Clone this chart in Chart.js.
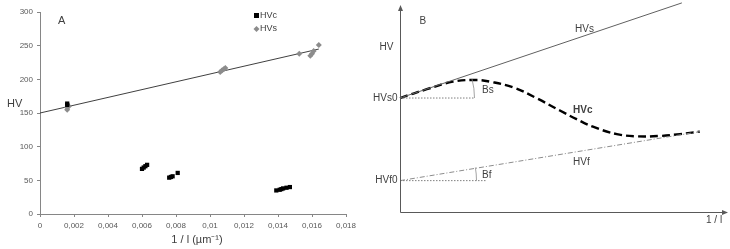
<!DOCTYPE html>
<html><head><meta charset="utf-8">
<script src="https://cdn.jsdelivr.net/npm/chart.js@4"></script>
<style>
html,body{margin:0;padding:0;background:#fff;width:730px;height:249px;overflow:hidden}
#wa{position:absolute;left:0;top:0;width:370px;height:249px}
#wb{position:absolute;left:360px;top:0;width:370px;height:249px}
</style></head><body>
<div id="wa"><canvas id="ca"></canvas></div>
<div id="wb"><canvas id="cb"></canvas></div>
<script>
// ---------- Panel A data ----------
const hvcX = [0.0016,0.0016,0.0060,0.0061,0.0062,0.0063,0.0076,0.0077,0.0078,0.0081,0.0139,0.0141,0.0142,0.0143,0.0145,0.0147];
const hvcY = [162,164,67,69,71,73,54,55,56,61,35,36,37,38,39,40];
const hvsX = [0.0016,0.0016,0.0017,0.0106,0.0107,0.0108,0.0109,0.01525,0.0159,0.0160,0.0161,0.0164];
const hvsY = [155,158,160,211,213,215,217,238,235,238,242,251];
const trendX = [0,0.0164];
const trendY = [150,245];
const xTickMax = 0.018, xTickStep = 0.002;
const yTickMax = 300, yTickStep = 50;

// ---------- Panel B (schematic) data ----------
const bHVsX = [0,86.2];
const bHVsY = [55.6,102];
const bHVcX = [0,8.2,16.2,23.5,27.5,34.6,41.8,48.9,54,59,66.3,72.4,79.5,85.6,91.7];
const bHVcY = [55.6,59.9,63.6,64.4,63.6,60.8,55.5,49.5,45.3,41.6,38.0,36.9,37.1,38,39.2];
const bHVfX = [0,91.7];
const bHVfY = [15.3,39.2];
const bS0X = [0,22.9], bS0Y = [55.6,55.6];
const bF0X = [0,26.5], bF0Y = [15.3,15.3];

const FONT = "'Liberation Sans', Arial, sans-serif";
const zip = (xs, ys) => xs.map((x, i) => ({x, y: ys[i]}));

// ---------- Chart A ----------
const plugA = {
  id: 'plugA',
  afterDraw(c) {
    const ctx = c.ctx;
    ctx.save();
    ctx.fillStyle = '#404040';
    ctx.font = '11px ' + FONT;
    ctx.textBaseline = 'middle';
    ctx.textAlign = 'left';
    ctx.fillText('HV', 7, 104);
    ctx.fillText('A', 58, 21);
    ctx.textAlign = 'center';
    ctx.fillText('1 / l (\u00b5m\u207b\u00b9)', 197, 240);
    // legend
    ctx.fillStyle = '#000';
    ctx.fillRect(254, 13, 5, 5);
    ctx.fillStyle = '#8c8c8c';
    ctx.beginPath();
    ctx.moveTo(256.5, 26); ctx.lineTo(259.5, 29); ctx.lineTo(256.5, 32); ctx.lineTo(253.5, 29); ctx.closePath(); ctx.fill();
    ctx.fillStyle = '#404040';
    ctx.font = '9px ' + FONT;
    ctx.textAlign = 'left';
    ctx.fillText('HVc', 260, 15.5);
    ctx.fillText('HVs', 260, 29);
    ctx.restore();
  }
};

new Chart(document.getElementById('ca'), {
  type: 'scatter',
  data: {
    datasets: [
      {label: 'trend', data: zip(trendX, trendY), showLine: true, borderColor: '#404040', borderWidth: 1, pointRadius: 0, order: 3},
      {label: 'HVs', data: zip(hvsX, hvsY), pointStyle: 'rectRot', pointRadius: 3, backgroundColor: '#8c8c8c', borderColor: '#8c8c8c', borderWidth: 0, order: 2},
      {label: 'HVc', data: zip(hvcX, hvcY), pointStyle: 'rect', pointRadius: 3, backgroundColor: '#000', borderColor: '#000', borderWidth: 0, order: 1}
    ]
  },
  options: {
    responsive: true, maintainAspectRatio: false, animation: false,
    layout: {padding: {left: 0, right: 24, top: 12, bottom: 0}},
    plugins: {legend: {display: false}, tooltip: {enabled: false}},
    scales: {
      x: {
        type: 'linear', min: 0, max: xTickMax,
        afterFit(s) { s.height = 35; },
        border: {display: true, color: '#868686'},
        grid: {display: true, drawOnChartArea: false, drawTicks: true, tickLength: 3, color: '#868686'},
        ticks: {stepSize: xTickStep, color: '#595959', font: {size: 8, family: FONT}, padding: 4, maxRotation: 0,
          callback: v => String(parseFloat(Number(v).toFixed(3))).replace('.', ',')}
      },
      y: {
        type: 'linear', min: 0, max: yTickMax,
        afterFit(s) { s.width = 40; },
        border: {display: true, color: '#868686'},
        grid: {display: true, drawOnChartArea: false, drawTicks: true, tickLength: 3, color: '#868686'},
        ticks: {stepSize: yTickStep, color: '#595959', font: {size: 8, family: FONT}, padding: 4}
      }
    }
  },
  plugins: [plugA]
});

// ---------- Chart B ----------
const OFF = 360; // canvas B left offset on the page
const plugB = {
  id: 'plugB',
  afterDraw(c) {
    const ctx = c.ctx, xs = c.scales.x, ys = c.scales.y;
    const x0 = Math.round(xs.getPixelForValue(0)) + 0.5, y0 = Math.round(ys.getPixelForValue(0)) + 0.5;
    const xEnd = xs.getPixelForValue(100), yTop = ys.getPixelForValue(100);
    ctx.save();
    // axes with arrowheads
    ctx.strokeStyle = '#595959'; ctx.fillStyle = '#595959'; ctx.lineWidth = 1;
    ctx.beginPath();
    ctx.moveTo(x0, y0); ctx.lineTo(x0, yTop + 2);
    ctx.moveTo(x0, y0); ctx.lineTo(xEnd - 2, y0);
    ctx.stroke();
    ctx.beginPath();
    ctx.moveTo(x0, yTop - 2); ctx.lineTo(x0 - 2.5, yTop + 4); ctx.lineTo(x0 + 2.5, yTop + 4); ctx.closePath(); ctx.fill();
    ctx.beginPath();
    ctx.moveTo(xEnd + 1, y0); ctx.lineTo(xEnd - 5, y0 - 2.5); ctx.lineTo(xEnd - 5, y0 + 2.5); ctx.closePath(); ctx.fill();
    // angle arcs
    ctx.strokeStyle = '#8c8c8c'; ctx.lineWidth = 0.8;
    const sy = ys.getPixelForValue(bS0Y[0]);
    ctx.beginPath(); ctx.arc(x0, sy, 74, -15 * Math.PI / 180, 0); ctx.stroke();
    const fy = ys.getPixelForValue(bF0Y[0]);
    ctx.beginPath(); ctx.arc(x0, fy, 76, -10 * Math.PI / 180, 0); ctx.stroke();
    // labels (page x positions converted to canvas-B coordinates)
    const px = v => v - OFF;
    ctx.fillStyle = '#404040';
    ctx.font = '10px ' + FONT;
    ctx.textBaseline = 'middle';
    ctx.textAlign = 'right';
    ctx.fillText('HV', x0 - 7, 47);
    ctx.fillText('HVs0', x0 - 3, sy);
    ctx.fillText('HVf0', x0 - 3, fy);
    ctx.textAlign = 'left';
    ctx.fillText('B', x0 + 19, 21);
    ctx.fillText('HVs', px(575), 29);
    ctx.fillText('HVf', px(573), 162);
    ctx.fillText('Bs', px(482), 90);
    ctx.fillText('Bf', px(482), 175);
    ctx.fillText('1 / l', px(706), 220);
    ctx.font = 'bold 10px ' + FONT;
    ctx.fillText('HVc', px(573), 110);
    ctx.restore();
  }
};

new Chart(document.getElementById('cb'), {
  type: 'scatter',
  data: {
    datasets: [
      {label: 'HVs0', data: zip(bS0X, bS0Y), showLine: true, borderColor: '#7f7f7f', borderWidth: 1, borderDash: [1.5, 1.5], pointRadius: 0, clip: false},
      {label: 'HVf0', data: zip(bF0X, bF0Y), showLine: true, borderColor: '#7f7f7f', borderWidth: 1, borderDash: [1.5, 1.5], pointRadius: 0, clip: false},
      {label: 'HVs', data: zip(bHVsX, bHVsY), showLine: true, borderColor: '#606060', borderWidth: 1, pointRadius: 0, clip: false},
      {label: 'HVf', data: zip(bHVfX, bHVfY), showLine: true, borderColor: '#8c8c8c', borderWidth: 1, borderDash: [5, 2, 1, 2], pointRadius: 0, clip: false},
      {label: 'HVc', data: zip(bHVcX, bHVcY), showLine: true, borderColor: '#000', borderWidth: 2.4, borderDash: [8, 4], tension: 0.4, pointRadius: 0, clip: false}
    ]
  },
  options: {
    responsive: true, maintainAspectRatio: false, animation: false,
    layout: {padding: {left: 40, right: 3, top: 7, bottom: 37}},
    plugins: {legend: {display: false}, tooltip: {enabled: false}},
    scales: {
      x: {type: 'linear', min: 0, max: 100, display: false},
      y: {type: 'linear', min: 0, max: 100, display: false}
    }
  },
  plugins: [plugB]
});
</script>
</body></html>
